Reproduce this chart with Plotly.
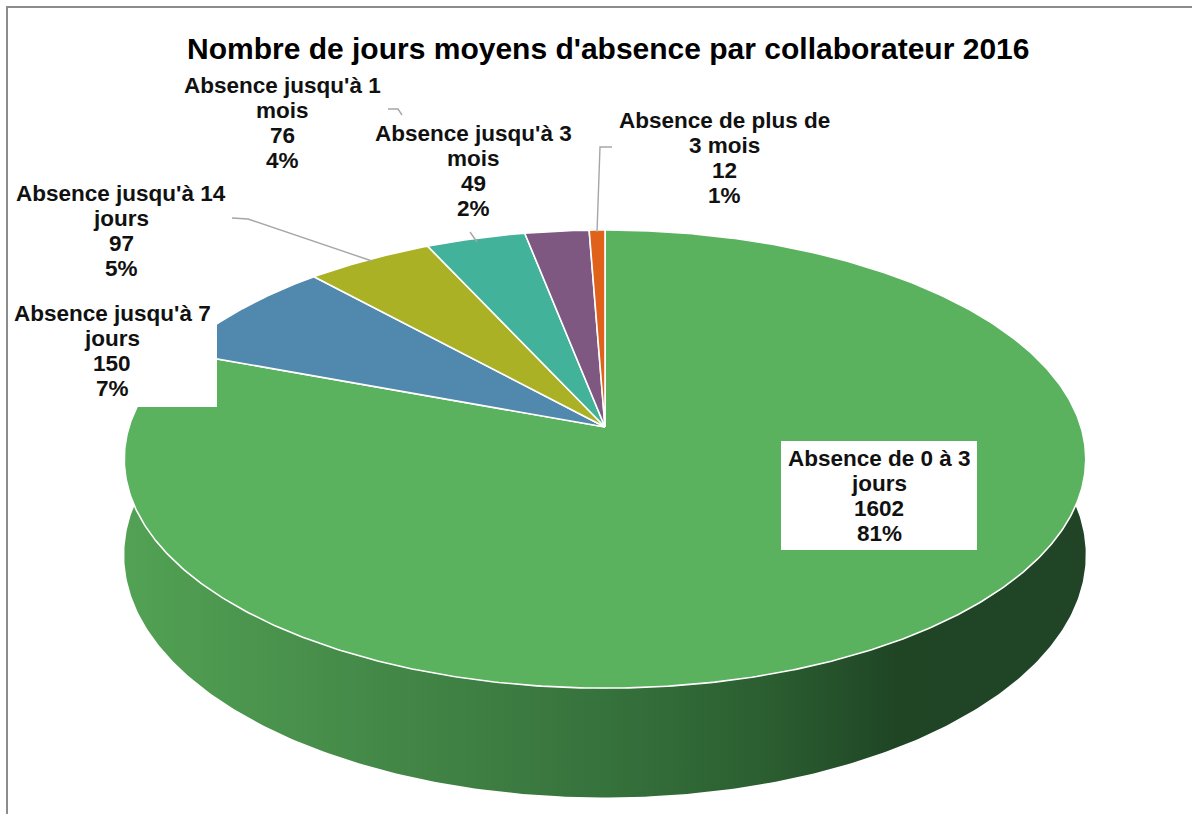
import numpy as np
import plotly.graph_objects as go

# ---------------- data ----------------
categories = ["Absence de 0 à 3 jours", "Absence jusqu'à 7 jours", "Absence jusqu'à 14 jours",
              "Absence jusqu'à 1 mois", "Absence jusqu'à 3 mois", "Absence de plus de 3 mois"]
label_lines = [["Absence de 0 à 3", "jours"], ["Absence jusqu'à 7", "jours"],
               ["Absence jusqu'à 14", "jours"], ["Absence jusqu'à 1", "mois"],
               ["Absence jusqu'à 3", "mois"], ["Absence de plus de", "3 mois"]]
values = [1602, 150, 97, 76, 49, 12]
percent_labels = ["81%", "7%", "5%", "4%", "2%", "1%"]
title_text = "Nombre de jours moyens d'absence par collaborateur 2016"

# ---------------- style / layout ----------------
colors = ["#5AB15E", "#5189AE", "#AAB124", "#42B29A", "#7E5880", "#E0611A"]
W, Hgt = 1192, 814
CX, CY = 605, 427          # apex of the pie on screen
R, S, K = 476, 224.6, 0.14  # horizontal radius, vertical radius, perspective
DEPTH = 94
FONT = "Liberation Sans, Arial, sans-serif"
# label anchor: (center x, y of first line), line step
label_pos = [(879, 458), (112, 313), (121, 193), (282, 85), (473, 133), (724, 120)]
LINE_STEP = 25.2


def proj(theta_deg, drop=0.0):
    t = np.radians(theta_deg)
    u, v = np.cos(t), np.sin(t)
    w = 1 + K * v
    return CX + R * u / w, CY - S * v / w + drop / w


fig = go.Figure()

# side (front wall) of the 3D pie
th = np.linspace(175, 365, 300)
xt, yt = proj(th)
xb, yb = proj(th[::-1], DEPTH)
fig.add_trace(go.Scatter(
    x=np.concatenate([xt, xb, xt[:1]]), y=np.concatenate([yt, yb, yt[:1]]),
    mode="lines", fill="toself", line=dict(width=0, color="rgba(0,0,0,0)"),
    fillgradient=dict(type="horizontal", start=120, stop=1090,
                      colorscale=[[0, "#52A254"], [0.3, "#428546"], [0.5, "#36723C"],
                                  [0.68, "#2A5C30"], [0.8, "#1F4525"], [1, "#214427"]]),
    hoverinfo="skip", showlegend=False))

# top face slices (start at 12 o'clock, clockwise)
total = sum(values)
cum = 0.0
for val, col in zip(values, colors):
    a0 = 90 - 360 * cum / total
    cum += val
    a1 = 90 - 360 * cum / total
    n = max(4, int(abs(a1 - a0) * 2))
    ang = np.linspace(a0, a1, n)
    xa, ya = proj(ang)
    xs = np.concatenate([[CX], xa, [CX]])
    ys = np.concatenate([[CY], ya, [CY]])
    fig.add_trace(go.Scatter(x=xs, y=ys, mode="lines", fill="toself", fillcolor=col,
                             line=dict(color="white", width=1.6), hoverinfo="skip",
                             showlegend=False))

shapes = [
    # white label boxes overlapping the pie
    dict(type="rect", xref="x", yref="y", x0=9, y0=296, x1=217, y1=407,
         fillcolor="white", line=dict(width=0), layer="above"),
    dict(type="rect", xref="x", yref="y", x0=781, y0=441, x1=977, y1=550,
         fillcolor="white", line=dict(width=0), layer="above"),
    # chart border
    dict(type="rect", xref="x", yref="y", x0=7, y0=7, x1=1300, y1=1000,
         line=dict(color="#8C8C8C", width=2), layer="above"),
    # leader lines
    dict(type="path", xref="x", yref="y", path="M 232 218 L 248 219 L 372 261",
         line=dict(color="#A6A6A6", width=1.4), layer="above"),
    dict(type="path", xref="x", yref="y", path="M 388 109 L 398 109 L 402 115",
         line=dict(color="#A6A6A6", width=1.4), layer="above"),
    dict(type="path", xref="x", yref="y", path="M 470 232 L 477 242",
         line=dict(color="#A6A6A6", width=1.4), layer="above"),
    dict(type="path", xref="x", yref="y", path="M 612 147 L 600 147 L 597 232",
         line=dict(color="#A6A6A6", width=1.4), layer="above"),
]

annotations = [dict(x=608, y=48, xref="x", yref="y", text=title_text, showarrow=False,
                    font=dict(family=FONT, size=30, color="#000000", weight="bold"),
                    xanchor="center", yanchor="middle")]
for i in range(len(values)):
    lines = label_lines[i] + [str(values[i]), percent_labels[i]]
    lx, ly = label_pos[i]
    for j, t in enumerate(lines):
        annotations.append(dict(x=lx, y=ly + j * LINE_STEP, xref="x", yref="y", text=t,
                                showarrow=False, xanchor="center", yanchor="middle",
                                font=dict(family=FONT, size=22.5, color="#111111", weight="bold")))

fig.update_layout(
    width=W, height=Hgt, margin=dict(l=0, r=0, t=0, b=0),
    paper_bgcolor="white", plot_bgcolor="white",
    xaxis=dict(range=[0, W], visible=False, fixedrange=True),
    yaxis=dict(range=[Hgt, 0], visible=False, fixedrange=True),
    shapes=shapes, annotations=annotations, showlegend=False,
)
fig.write_html("out.html", config={"displayModeBar": False},
               post_script="document.body.style.margin='0px';")
